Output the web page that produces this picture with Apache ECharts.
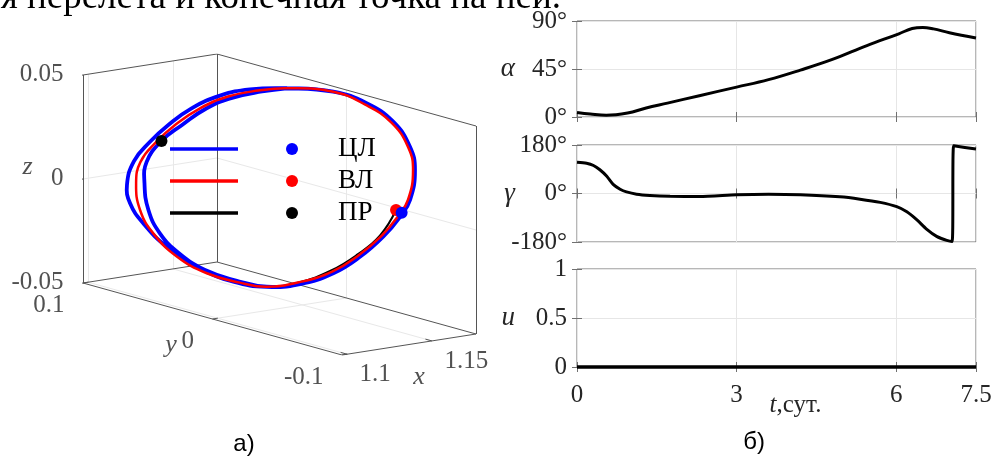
<!DOCTYPE html>
<html>
<head>
<meta charset="utf-8">
<title>Траектория перелета</title>
<script src="https://cdn.jsdelivr.net/npm/echarts@6.0.0/dist/echarts.min.js"></script>
<style>
    html, body { margin: 0; padding: 0; background: #fff; }
    #main { width: 995px; height: 456px; }
</style>
</head>
<body>
<div id="main"></div>
<script>
    // ---- а) 3D orbits, points are [x, y, z] ----
    var xLim = [1.097, 1.176], yLim = [-0.1, 0.1], zLim = [-0.05, 0.05];
    var xTicks = [1.1, 1.15], yTicks = [-0.1, 0, 0.1], zTicks = [-0.05, 0, 0.05];

    // common arc of the loops (top, right side, bottom)
    var arcShared = [
        [1.1585, 0.0516, 0.0436], [1.1640, 0.0305, 0.0471], [1.1698, 0.0021, 0.0496],
        [1.1716, -0.0213, 0.0479], [1.1707, -0.0430, 0.0429], [1.1667, -0.0612, 0.0345],
        [1.1614, -0.0720, 0.0259], [1.1530, -0.0792, 0.0138], [1.1473, -0.0790, 0.0064],
        [1.1397, -0.0759, -0.0027], [1.1312, -0.0691, -0.0125], [1.1231, -0.0591, -0.0211],
        [1.1156, -0.0432, -0.0281], [1.1101, -0.0247, -0.0319]
    ];
    // outer and inner left arcs of ЦЛ
    var arcOuter = [
        [1.1066, -0.0035, -0.0327], [1.1053, 0.0205, -0.0302], [1.1061, 0.0472, -0.0246],
        [1.1087, 0.0688, -0.0174], [1.1120, 0.0833, -0.0107], [1.1162, 0.0912, -0.0038],
        [1.1234, 0.0952, 0.0061], [1.1307, 0.0924, 0.0149], [1.1376, 0.0873, 0.0230],
        [1.1452, 0.0793, 0.0314], [1.1526, 0.0670, 0.0387]
    ];
    var arcInner = [
        [1.1073, -0.0046, -0.0320], [1.1056, 0.0170, -0.0305], [1.1061, 0.0378, -0.0261],
        [1.1085, 0.0557, -0.0199], [1.1129, 0.0703, -0.0118], [1.1192, 0.0816, -0.0017],
        [1.1250, 0.0876, 0.0067], [1.1325, 0.0859, 0.0162], [1.1396, 0.0793, 0.0241],
        [1.1474, 0.0705, 0.0327], [1.1540, 0.0588, 0.0390], [1.1597, 0.0438, 0.0438]
    ];
    // ВЛ (closed loop)
    var redOrbit = [
        [1.1593, 0.0465, 0.0438], [1.1640, 0.0305, 0.0471], [1.1698, 0.0021, 0.0496],
        [1.1711, -0.0209, 0.0472], [1.1702, -0.0423, 0.0424], [1.1663, -0.0603, 0.0342],
        [1.1611, -0.0709, 0.0256], [1.1528, -0.0779, 0.0137], [1.1471, -0.0777, 0.0065],
        [1.1397, -0.0746, -0.0026], [1.1313, -0.0677, -0.0121], [1.1234, -0.0578, -0.0206],
        [1.1160, -0.0422, -0.0274], [1.1101, -0.0247, -0.0319], [1.1073, -0.0077, -0.0325],
        [1.1050, 0.0149, -0.0316], [1.1050, 0.0378, -0.0276], [1.1076, 0.0596, -0.0205],
        [1.1117, 0.0752, -0.0125], [1.1180, 0.0865, -0.0024], [1.1241, 0.0911, 0.0063],
        [1.1316, 0.0885, 0.0155], [1.1386, 0.0834, 0.0235], [1.1464, 0.0744, 0.0321],
        [1.1535, 0.0620, 0.0390]
    ];
    // ПР (transfer)
    var blackPath = [
        [1.1484, -0.0744, 0.0087], [1.1396, -0.0736, -0.0025], [1.1314, -0.0667, -0.0119],
        [1.1235, -0.0569, -0.0202], [1.1160, -0.0422, -0.0274], [1.1101, -0.0247, -0.0319],
        [1.1073, -0.0046, -0.0320], [1.1056, 0.0170, -0.0305], [1.1061, 0.0378, -0.0261],
        [1.1085, 0.0557, -0.0199], [1.1129, 0.0703, -0.0118], [1.1192, 0.0816, -0.0017],
        [1.1250, 0.0876, 0.0067], [1.1325, 0.0859, 0.0162]
    ];
    var dotBlue = [1.1485, -0.0786, 0.0081];
    var dotRed = [1.1484, -0.0744, 0.0087];
    var dotBlack = [1.1325, 0.0859, 0.0162];
    var legendNames = ['ЦЛ', 'ВЛ', 'ПР'];

    // ---- б) controls vs time ----
    var tAlpha = [0, 0.25, 0.55, 0.95, 1.3, 1.7, 2.3, 3.0, 3.6, 4.2, 4.8, 5.45, 6.05, 6.3, 6.5, 6.7, 7.0, 7.5];
    var alpha = [4.3, 2.8, 1.6, 3.7, 8.4, 13, 20, 28, 35, 44, 54, 67, 78, 83, 84, 82.6, 79, 74];
    var tGamma = [0, 0.18, 0.31, 0.43, 0.56, 0.68, 0.81, 0.93, 1.12, 1.37, 1.75, 2.3, 3.0, 3.6, 4.2,
        4.94, 5.32, 5.7, 6.01, 6.2, 6.39, 6.57, 6.76, 6.95, 7.05, 7.08, 7.5];
    var gamma = [116, 112, 104, 88, 64, 34, 16, 6, -2.5, -7, -10, -11, -5, -3, -5,
        -12.5, -21, -33, -49, -68, -98, -132, -159, -174, -178, 177, 165];
    var tU = [0, 1.5, 3, 4.5, 6, 7.5];
    var uVals = [0, 0, 0, 0, 0, 0];

    var serif = '"Liberation Serif", "Times New Roman", serif';
    var sans = '"Liberation Sans", Arial, sans-serif';
    var ink = '#262626';

    // simple oblique projection of the box (pixels per full axis range)
    function proj(p) {
        var u = (p[0] - xLim[0]) / (xLim[1] - xLim[0]);
        var v = (p[1] - yLim[0]) / (yLim[1] - yLim[0]);
        var w = (p[2] - zLim[0]) / (zLim[1] - zLim[0]);
        return [134 * u - 259 * v, 21 * u + 72 * v + 208 * w];
    }
    function zip(a, b) {
        return a.map(function (v, i) { return [v, b[i]]; });
    }
    function inside(v, lim) { return v > lim[0] + 1e-9 && v < lim[1] - 1e-9; }

    var X0 = xLim[0], X1 = xLim[1], Y0 = yLim[0], Y1 = yLim[1], Z0 = zLim[0], Z1 = zLim[1];
    var boxEdges = [
        [[X0, Y1, Z0], [X0, Y1, Z1]], [[X1, Y1, Z0], [X1, Y1, Z1]], [[X1, Y0, Z0], [X1, Y0, Z1]],
        [[X0, Y1, Z1], [X1, Y1, Z1]], [[X1, Y1, Z1], [X1, Y0, Z1]],
        [[X0, Y1, Z0], [X1, Y1, Z0]], [[X1, Y1, Z0], [X1, Y0, Z0]],
        [[X0, Y1, Z0], [X0, Y0, Z0]], [[X0, Y0, Z0], [X1, Y0, Z0]]
    ];
    var gridSegs = [], tickSegs = [];
    zTicks.forEach(function (z) {
        if (inside(z, zLim)) {
            gridSegs.push([[X0, Y1, z], [X1, Y1, z]], [[X1, Y1, z], [X1, Y0, z]]);
        }
        tickSegs.push([[X0, Y1, z], [X0 - 0.045 * (X1 - X0), Y1, z]]);
    });
    xTicks.forEach(function (x) {
        if (inside(x, xLim)) {
            gridSegs.push([[x, Y1, Z0], [x, Y1, Z1]], [[x, Y1, Z0], [x, Y0, Z0]]);
        }
        tickSegs.push([[x, Y0, Z0], [x, Y0 + 0.025 * (Y1 - Y0), Z0]]);
    });
    yTicks.forEach(function (y) {
        if (inside(y, yLim)) {
            gridSegs.push([[X1, y, Z0], [X1, y, Z1]], [[X0, y, Z0], [X1, y, Z0]]);
        }
        tickSegs.push([[X0, y, Z0], [X0 + 0.04 * (X1 - X0), y, Z0]]);
    });
    function segData(list) {
        return list.map(function (s) { return { coords: [proj(s[0]), proj(s[1])] }; });
    }

    // 3D tick labels and axis names
    var labelItems = [];
    function addLabel(p, text, dx, dy, align, italic, size) {
        labelItems.push({
            value: proj(p),
            label: {
                show: true, formatter: text, position: [dx, dy], align: align,
                verticalAlign: 'middle', fontFamily: serif, fontSize: size || 25,
                fontStyle: italic ? 'italic' : 'normal', color: ink
            }
        });
    }
    zTicks.forEach(function (z) { addLabel([X0, Y1, z], String(z), -19, 0, 'right'); });
    yTicks.forEach(function (y) { addLabel([X0, y, Z0], String(y), -18, 23, 'right'); });
    xTicks.forEach(function (x) { addLabel([x, Y0, Z0], String(x), 13, 21, 'left'); });
    addLabel([X0, Y1, 0], 'z', -55, -11, 'center', true, 26);
    addLabel([X0, 0, Z0], 'y', -41, 27, 'center', true, 26);
    addLabel([1.125, Y0, Z0], 'x', 30, 30, 'center', true, 26);

    var blueOrbit = arcShared.concat(arcOuter, arcShared, arcInner, [arcShared[1]]);

    // orbit curves: one smooth path through all projected points, placed by api.coord
    function orbitSeries(path, color, width, z, closed) {
        var pts = path.map(proj);
        return {
            type: 'custom', coordinateSystem: 'cartesian2d', xAxisIndex: 0, yAxisIndex: 0,
            data: pts, silent: true, z: z, clip: false,
            renderItem: function (params, api) {
                if (params.dataIndex !== 0) return null;
                var screen = pts.map(function (p) { return api.coord(p); });
                return {
                    type: closed ? 'polygon' : 'polyline',
                    shape: { points: screen, smooth: 0.45 },
                    style: { stroke: color, lineWidth: width, fill: null, lineJoin: 'round', lineCap: 'round' }
                };
            }
        };
    }
    function dotSeries(p, color, size, z) {
        return {
            type: 'scatter', xAxisIndex: 0, yAxisIndex: 0, data: [proj(p)],
            symbolSize: size, itemStyle: { color: color, opacity: 1 }, silent: true, z: z
        };
    }

    // right panels
    var panels = [
        { top: 21, height: 96, min: 0, max: 90, interval: 45, name: 'α', unit: '°' },
        { top: 145, height: 97, min: -180, max: 180, interval: 180, name: 'γ', unit: '°' },
        { top: 269, height: 98, min: 0, max: 1, interval: 0.5, name: 'u', unit: '' }
    ];

    var grids = [{ left: 83, top: 54, width: 393, height: 301, outerBoundsMode: 'none' }];
    var xAxes = [{ gridIndex: 0, type: 'value', min: -259, max: 134, show: false }];
    var yAxes = [{ gridIndex: 0, type: 'value', min: 0, max: 301, show: false }];
    var tickStyle = { show: true, inside: true, length: 5, lineStyle: { color: '#707070', width: 1 } };

    panels.forEach(function (p, i) {
        var g = i + 1, last = i === panels.length - 1;
        grids.push({
            left: 577, top: p.top, width: 399, height: p.height, show: true,
            borderColor: '#6e6e6e', borderWidth: 1, backgroundColor: 'transparent',
            outerBoundsMode: 'none'
        });
        xAxes.push({
            gridIndex: g, type: 'value', min: 0, max: 7.5, interval: 3,
            axisLine: { show: false }, axisTick: tickStyle,
            axisLabel: {
                show: last, margin: 16, fontFamily: serif, fontSize: 25, color: ink,
                formatter: function (v) { return String(v); }
            },
            splitLine: { show: true, lineStyle: { color: '#e6e6e6', width: 1 } },
            name: last ? '{i|t},сут.' : '', nameLocation: 'middle', nameGap: 26,
            nameMoveOverlap: false,
            nameTextStyle: {
                fontFamily: serif, fontSize: 25, color: ink, padding: [0, 0, 0, 38],
                rich: { i: { fontFamily: serif, fontSize: 25, fontStyle: 'italic', color: ink } }
            }
        });
        yAxes.push({
            gridIndex: g, type: 'value', min: p.min, max: p.max, interval: p.interval,
            axisLine: { show: false }, axisTick: tickStyle,
            axisLabel: {
                margin: 10, fontFamily: serif, fontSize: 25, color: ink,
                formatter: function (v) { return v + p.unit; }
            },
            splitLine: { show: true, lineStyle: { color: '#e6e6e6', width: 1 } },
            name: p.name, nameLocation: 'middle', nameGap: 62, nameRotate: 0,
            nameMoveOverlap: false,
            nameTextStyle: { fontFamily: serif, fontSize: 27, fontStyle: 'italic', color: ink }
        });
    });
    // mirrored ticks on top / right edges
    panels.forEach(function (p, i) {
        xAxes.push({
            gridIndex: i + 1, type: 'value', position: 'top', min: 0, max: 7.5, interval: 3,
            axisLine: { show: false }, axisTick: tickStyle, axisLabel: { show: false },
            splitLine: { show: false }
        });
        yAxes.push({
            gridIndex: i + 1, type: 'value', position: 'right', min: p.min, max: p.max,
            interval: p.interval, axisLine: { show: false }, axisTick: tickStyle,
            axisLabel: { show: false }, splitLine: { show: false }
        });
    });

    function timeSeries(idx, data, smooth) {
        return {
            type: 'line', xAxisIndex: idx, yAxisIndex: idx, data: data, smooth: smooth,
            symbol: 'none', silent: true, z: 5, clip: idx !== 3,
            lineStyle: { color: '#000', width: idx === 3 ? 3.5 : 3 }
        };
    }

    // legend drawn inside the 3D box
    var legendColors = ['#0000ff', '#ff0000', '#000000'];
    var graphics = [];
    legendNames.forEach(function (n, i) {
        var y = 149 + i * 32;
        graphics.push(
            { type: 'line', shape: { x1: 170, y1: y, x2: 238, y2: y }, style: { stroke: legendColors[i], lineWidth: 3.5 }, z: 10 },
            { type: 'circle', shape: { cx: 292, cy: y, r: 6 }, style: { fill: legendColors[i] }, z: 10 },
            { type: 'text', x: 338, y: y, z: 10, style: { text: n, font: '27px ' + serif, fill: '#000', align: 'left', verticalAlign: 'middle' } }
        );
    });
    graphics.push(
        { type: 'text', x: 561, y: 16.5, style: { text: 'я перелета и конечная точка на ней.', font: '37px ' + serif, fill: '#000', align: 'right', verticalAlign: 'bottom' } },
        { type: 'text', x: 244, y: 444, style: { text: 'а)', font: '24px ' + sans, fill: '#000', align: 'center', verticalAlign: 'middle' } },
        { type: 'text', x: 754, y: 442, style: { text: 'б)', font: '24px ' + sans, fill: '#000', align: 'center', verticalAlign: 'middle' } }
    );

    var chart = echarts.init(document.getElementById('main'), null, { renderer: 'canvas' });
    chart.setOption({
        animation: false,
        backgroundColor: '#fff',
        textStyle: { fontFamily: serif },
        grid: grids,
        xAxis: xAxes,
        yAxis: yAxes,
        graphic: graphics,
        series: [
            {
                type: 'lines', coordinateSystem: 'cartesian2d', xAxisIndex: 0, yAxisIndex: 0,
                data: segData(gridSegs), silent: true, z: 1,
                lineStyle: { color: '#e8e8e8', width: 1, opacity: 1 }
            },
            {
                type: 'lines', coordinateSystem: 'cartesian2d', xAxisIndex: 0, yAxisIndex: 0,
                data: segData(boxEdges.concat(tickSegs)), silent: true, z: 1,
                lineStyle: { color: '#555', width: 1, opacity: 1 }
            },
            orbitSeries(blackPath, '#000000', 2, 2, false),
            orbitSeries(blueOrbit, '#0000ff', 3.8, 3, false),
            orbitSeries(redOrbit, '#ff0000', 2.5, 4, true),
            dotSeries(dotRed, '#ff0000', 12, 6),
            dotSeries(dotBlue, '#0000ff', 12, 7),
            dotSeries(dotBlack, '#000000', 12, 7),
            {
                type: 'scatter', xAxisIndex: 0, yAxisIndex: 0, data: labelItems,
                symbolSize: 1, itemStyle: { color: 'rgba(0,0,0,0)' }, silent: true, z: 8
            },
            timeSeries(1, zip(tAlpha, alpha), 0.4),
            timeSeries(2, zip(tGamma, gamma), 0.25),
            timeSeries(3, zip(tU, uVals), false)
        ]
    });
</script>
</body>
</html>
